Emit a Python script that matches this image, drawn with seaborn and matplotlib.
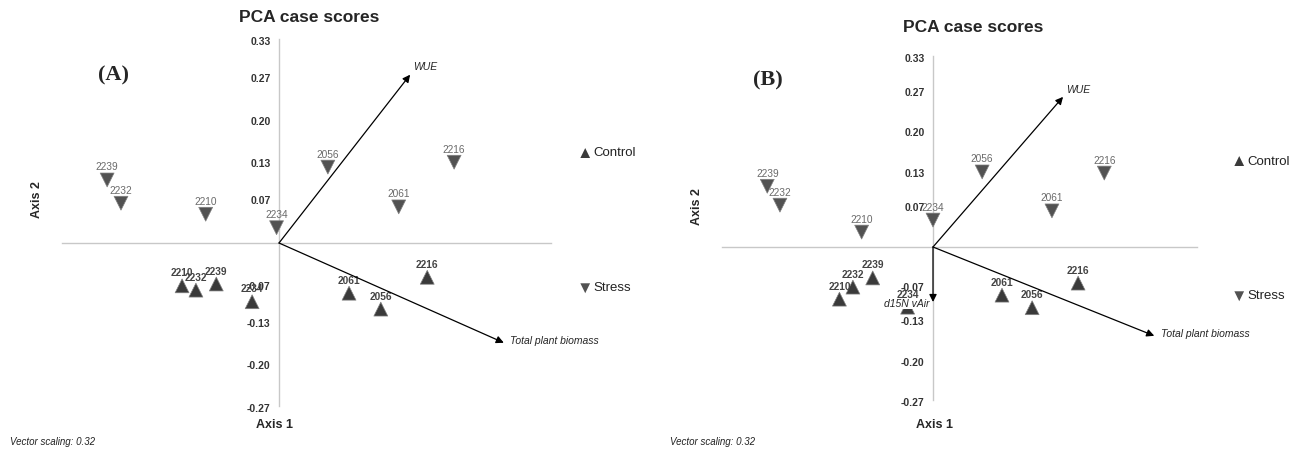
import numpy as np
import pandas as pd
import matplotlib
matplotlib.use('Agg')
import matplotlib.pyplot as plt
import seaborn as sns

# case ids, same order for every series
ids = ['2239', '2232', '2210', '2234', '2056', '2061', '2216']

# panel A scores
a_stress_x = [-0.211, -0.194, -0.090, -0.003, 0.060, 0.147, 0.215]
a_stress_y = [0.103, 0.065, 0.047, 0.025, 0.124, 0.059, 0.132]
a_ctrl_x = [-0.077, -0.102, -0.119, -0.033, 0.125, 0.086, 0.182]
a_ctrl_y = [-0.067, -0.077, -0.070, -0.096, -0.108, -0.082, -0.056]

# panel B scores
b_stress_x = [-0.209, -0.193, -0.090, 0.000, 0.062, 0.150, 0.216]
b_stress_y = [0.106, 0.073, 0.026, 0.047, 0.131, 0.063, 0.129]
b_ctrl_x = [-0.076, -0.101, -0.118, -0.032, 0.125, 0.087, 0.183]
b_ctrl_y = [-0.054, -0.070, -0.091, -0.105, -0.106, -0.084, -0.063]

# variable vectors
a_vec_names = ['WUE', 'Total plant biomass']
a_vec_x = [0.161, 0.276]
a_vec_y = [0.275, -0.163]
b_vec_names = ['WUE', 'Total plant biomass', 'd15N vAir']
b_vec_x = [0.164, 0.279, 0.0]
b_vec_y = [0.262, -0.155, -0.096]

yticks = [-0.27, -0.20, -0.13, -0.07, 0.07, 0.13, 0.20, 0.27, 0.33]
step = 1 / 15

W, H = 1293, 449
fig = plt.figure(figsize=(W / 100, H / 100), dpi=100)
sns.set_style('white')
plt.rcParams['font.family'] = ['Liberation Sans', 'DejaVu Sans']

XLIM = (-0.33, 0.40)
YLIM = (-0.30, 0.36)


def make_axes(ox, oy, sx, sy):
    # ox, oy: pixel position of origin; sx, sy: pixels per data unit
    left = ox + XLIM[0] * sx
    right = ox + XLIM[1] * sx
    top = oy - YLIM[1] * sy
    bottom = oy - YLIM[0] * sy
    return fig.add_axes([left / W, 1 - bottom / H, (right - left) / W, (bottom - top) / H])


def draw_panel(ax, sx, sy, cx, cy, names, vx, vy):
    df = pd.DataFrame({
        'x': sx + cx, 'y': sy + cy,
        'group': ['Stress'] * len(ids) + ['Control'] * len(ids),
        'id': ids + ids,
    })
    sns.scatterplot(data=df, x='x', y='y', hue='group', style='group',
                    hue_order=['Control', 'Stress'], style_order=['Control', 'Stress'],
                    palette={'Control': '#3a3a3a', 'Stress': '#525252'},
                    markers={'Control': '^', 'Stress': 'v'},
                    s=100, edgecolor='#808080', linewidth=0.5, ax=ax, zorder=3)
    for _, r in df.iterrows():
        ctrl = r['group'] == 'Control'
        ax.annotate(r['id'], (r['x'], r['y']), xytext=(0, 9), textcoords='offset points',
                    ha='center', va='center', fontsize=7.3,
                    color='#444444' if ctrl else '#6a6a6a',
                    fontweight='bold' if ctrl else 'normal', zorder=4)
    for n, x, y in zip(names, vx, vy):
        ax.annotate('', xy=(x, y), xytext=(0, 0),
                    arrowprops=dict(arrowstyle='-|>', color='black', lw=0.9,
                                    mutation_scale=11, shrinkA=0, shrinkB=0), zorder=5)
        if n == 'd15N vAir':
            ax.text(x - 0.004, y - 0.003, n, fontsize=7.5, style='italic', ha='right', va='center',
                    bbox=dict(facecolor='white', edgecolor='none', pad=0.5), zorder=6)
        elif y > 0:
            ax.text(x + 0.004, y + 0.012, n, fontsize=7.5, style='italic', ha='left', va='center')
        else:
            ax.text(x + 0.008, y + 0.003, n, fontsize=7.5, style='italic', ha='left', va='center')

    ax.set_xlim(*XLIM)
    ax.set_ylim(*YLIM)
    for s in ['top', 'right']:
        ax.spines[s].set_visible(False)
    ax.spines['left'].set_position(('data', 0))
    ax.spines['bottom'].set_position(('data', 0))
    ax.spines['left'].set_bounds(-4 * step, 5 * step)
    ax.spines['bottom'].set_bounds(-4 * step, 5 * step)
    for s in ['left', 'bottom']:
        ax.spines[s].set_color('#c8c8c8')
        ax.spines[s].set_linewidth(1.0)
    ax.set_xticks([k * step for k in range(-4, 6) if k != 0])
    ax.set_xticklabels([])
    ax.set_yticks(yticks)
    ax.set_yticklabels(['%.2f' % v for v in yticks], fontsize=7.5, fontweight='bold', color='#333333')
    ax.tick_params(axis='both', direction='out', length=5, color='#c8c8c8', width=1, pad=1)
    ax.set_xlabel('')
    ax.set_ylabel('')
    ax.patch.set_alpha(0)
    ax.get_legend().remove()


axA = make_axes(279, 243, 814.5, 612)
draw_panel(axA, a_stress_x, a_stress_y, a_ctrl_x, a_ctrl_y, a_vec_names, a_vec_x, a_vec_y)
axB = make_axes(933, 247, 793, 573)
draw_panel(axB, b_stress_x, b_stress_y, b_ctrl_x, b_ctrl_y, b_vec_names, b_vec_x, b_vec_y)

# figure texts
for tx, ty, ax1, ax2x, ax2y, vs in [
        (309, 18, (275, 425), 37, 200, 10),
        (973, 28, (935, 425), 697, 207, 670)]:
    fig.text(tx / W, 1 - ty / H, 'PCA case scores', fontsize=12.5, fontweight='bold',
             ha='center', va='center')
    fig.text(ax1[0] / W, 1 - ax1[1] / H, 'Axis 1', fontsize=9, fontweight='bold',
             ha='center', va='center')
    fig.text(ax2x / W, 1 - ax2y / H, 'Axis 2', fontsize=9, fontweight='bold',
             ha='center', va='center', rotation=90)
    fig.text(vs / W, 1 - 442 / H, 'Vector scaling: 0.32', fontsize=7, style='italic',
             ha='left', va='center', color='#222222')

fig.text(113 / W, 1 - 75 / H, '(A)', fontsize=16, fontweight='bold', family='Liberation Serif',
         ha='center', va='center')
fig.text(768 / W, 1 - 80 / H, '(B)', fontsize=16, fontweight='bold', family='Liberation Serif',
         ha='center', va='center')

# legends
for lx, cy, sy in [(585, 153, 288), (1239, 162, 296)]:
    fig.text(lx / W, 1 - cy / H, '\u25B2', fontsize=12, color='#3a3a3a', ha='center', va='center')
    fig.text((lx + 8) / W, 1 - cy / H, 'Control', fontsize=9.5, ha='left', va='center', color='#222222')
    fig.text(lx / W, 1 - sy / H, '\u25BC', fontsize=12, color='#525252', ha='center', va='center')
    fig.text((lx + 8) / W, 1 - sy / H, 'Stress', fontsize=9.5, ha='left', va='center', color='#222222')

fig.savefig('out.png', dpi=100, facecolor='white')
